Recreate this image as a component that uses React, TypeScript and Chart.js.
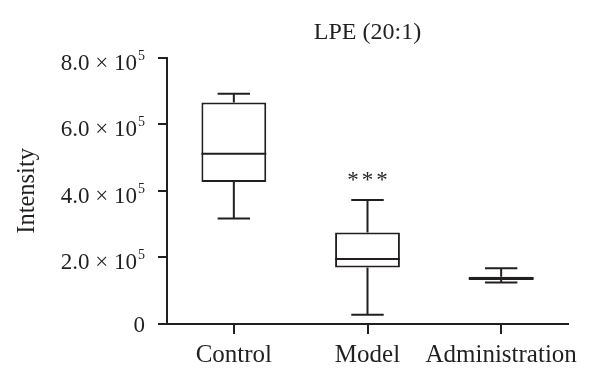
import React, { useEffect, useRef } from "react";
import { Chart, registerables } from "chart.js";

Chart.register(...registerables);

const categories = ["Control", "Model", "Administration"];
const whiskerMin = [3.17e5, 0.28e5, 1.25e5];
const q1 = [4.27e5, 1.7e5, 1.32e5];
const median = [5.12e5, 1.95e5, 1.37e5];
const q3 = [6.66e5, 2.75e5, 1.42e5];
const whiskerMax = [6.92e5, 3.73e5, 1.675e5];
const yTicks = [0, 2e5, 4e5, 6e5, 8e5];
const yTickMantissa = ["0", "2.0 × 10", "4.0 × 10", "6.0 × 10", "8.0 × 10"];
const yTickExponent = ["", "5", "5", "5", "5"];
const significance = ["", "***", ""];
const title = "LPE (20:1)";
const yTitle = "Intensity";

const INK = "#231f20";
const FONT = "'Liberation Serif', 'Times New Roman', serif";

const boxPlugin = {
  id: "boxWhiskers",
  afterDatasetsDraw(chart: any) {
    const ctx = chart.ctx;
    const xs = chart.scales.x;
    const ys = chart.scales.y;
    const meta = chart.getDatasetMeta(0);
    ctx.save();
    ctx.strokeStyle = INK;
    ctx.lineWidth = 2;
    categories.forEach((_, i) => {
      const x = xs.getPixelForValue(i);
      const bw = meta.data[i].width;
      const half = bw / 2;
      const cap = bw / 4;
      const yMin = ys.getPixelForValue(whiskerMin[i]);
      const yQ1 = ys.getPixelForValue(q1[i]);
      const yMed = ys.getPixelForValue(median[i]);
      const yQ3 = ys.getPixelForValue(q3[i]);
      const yMax = ys.getPixelForValue(whiskerMax[i]);
      ctx.beginPath();
      ctx.moveTo(x, yQ3);
      ctx.lineTo(x, yMax);
      ctx.moveTo(x - cap, yMax);
      ctx.lineTo(x + cap, yMax);
      ctx.moveTo(x, yQ1);
      ctx.lineTo(x, yMin);
      ctx.moveTo(x - cap, yMin);
      ctx.lineTo(x + cap, yMin);
      ctx.moveTo(x - half, yMed);
      ctx.lineTo(x + half, yMed);
      ctx.stroke();
      if (significance[i]) {
        ctx.fillStyle = INK;
        ctx.font = `23px ${FONT}`;
        (ctx as any).letterSpacing = "3px";
        ctx.textAlign = "center";
        ctx.textBaseline = "alphabetic";
        ctx.fillText(significance[i], x + 1.5, yMax - 13);
        (ctx as any).letterSpacing = "0px";
      }
    });
    ctx.restore();
  },
  afterDraw(chart: any) {
    // y tick labels with superscript exponent
    const ctx = chart.ctx;
    const ys = chart.scales.y;
    const right = ys.right - 22;
    ctx.save();
    ctx.fillStyle = INK;
    ctx.textAlign = "right";
    ctx.textBaseline = "alphabetic";
    yTicks.forEach((v, i) => {
      const y = ys.getPixelForValue(v);
      if (!yTickExponent[i]) {
        ctx.font = `23px ${FONT}`;
        ctx.fillText(yTickMantissa[i], right, y + 8);
        return;
      }
      ctx.font = `14px ${FONT}`;
      const ew = ctx.measureText(yTickExponent[i]).width;
      ctx.fillText(yTickExponent[i], right, y + 2);
      ctx.font = `23px ${FONT}`;
      ctx.fillText(yTickMantissa[i], right - ew - 1, y + 12);
    });
    ctx.restore();
  },
};

export default function App() {
  const ref = useRef<HTMLCanvasElement>(null);
  useEffect(() => {
    document.body.style.margin = "0";
    const chart = new Chart(ref.current!, {
      type: "bar",
      data: {
        labels: categories,
        datasets: [
          {
            data: q1.map((v, i) => [v, q3[i]]) as any,
            backgroundColor: "#ffffff",
            borderColor: INK,
            borderWidth: 2,
            borderSkipped: false,
            barPercentage: 0.485,
            categoryPercentage: 1,
          },
        ],
      },
      options: {
        animation: false,
        responsive: false,
        devicePixelRatio: 1,
        layout: { padding: { left: 0, right: 32, top: 0, bottom: 0 } },
        plugins: {
          legend: { display: false },
          tooltip: { enabled: false },
          title: {
            display: true,
            fullSize: false,
            text: title,
            color: INK,
            font: { family: FONT, size: 24, weight: "normal" },
            padding: { top: 18, bottom: 11 },
          },
        },
        scales: {
          x: {
            offset: true,
            grid: {
              display: true,
              drawOnChartArea: false,
              drawTicks: true,
              tickLength: 10,
              color: INK,
              lineWidth: 2,
              offset: false,
            },
            border: { display: true, color: INK, width: 2 },
            ticks: {
              color: INK,
              padding: 6,
              autoSkip: false,
              font: { family: FONT, size: 25 },
              maxRotation: 0,
            },
            afterFit: (s: any) => {
              s.height = 61;
            },
          },
          y: {
            min: 0,
            max: 8e5,
            afterBuildTicks: (s: any) => {
              s.ticks = yTicks.map((v) => ({ value: v }));
            },
            grid: {
              display: true,
              drawOnChartArea: false,
              drawTicks: true,
              tickLength: 9,
              color: INK,
              lineWidth: 2,
            },
            border: { display: true, color: INK, width: 2 },
            ticks: { display: false },
            title: {
              display: true,
              text: yTitle,
              color: INK,
              font: { family: FONT, size: 24.5 },
              padding: { top: 13, bottom: 0 },
            },
            afterFit: (s: any) => {
              s.width = 167;
            },
          },
        },
      },
      plugins: [boxPlugin],
    });
    return () => chart.destroy();
  }, []);
  return (
    <div style={{ width: 600, height: 385, background: "#fff" }}>
      <canvas ref={ref} width={600} height={385} />
    </div>
  );
}
